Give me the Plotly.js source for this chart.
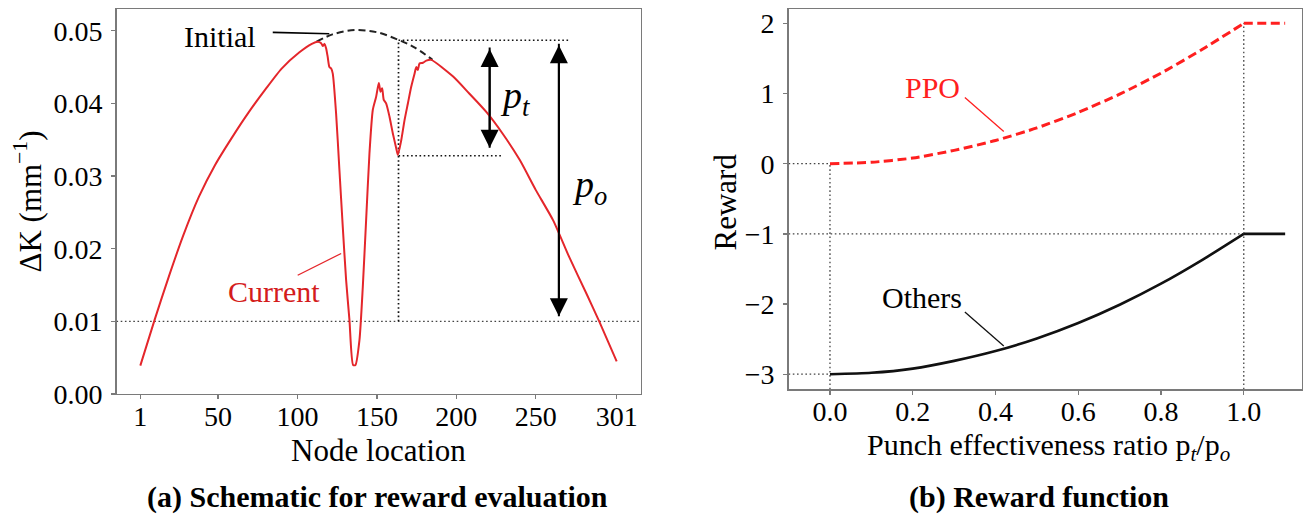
<!DOCTYPE html>
<html>
<head>
<meta charset="utf-8">
<script src="https://cdn.plot.ly/plotly-3.0.1.min.js"></script>
<style>
  html, body { margin: 0; padding: 0; background: #fff; }
  #chart { width: 1309px; height: 516px; }
</style>
</head>
<body>
<div id="chart"></div>
<script>
// ---------- (a) data: Delta K along the node location ----------
const currentNodes = [1, 10, 19, 28, 38, 48, 59, 69, 80, 90, 101, 109,
  112.7, 114.9, 115.9, 117, 118, 119, 120.1, 121.2, 122.2, 124.3, 126.4, 128.5, 130.6, 132.7,
  135, 136.5, 139, 141.1, 143.2, 145.3, 147.4, 149.5, 151.2, 152.3, 153.3, 154.3, 155.8,
  157.9, 160, 162.2, 163.2, 165.3, 167.4, 169.5, 171.6, 173.7, 174.8, 175.8, 176.8, 179,
  181.1, 184.2, 198, 208, 219, 229, 240, 250, 261, 271, 282, 290, 301];
const currentK = [0.0039, 0.0102, 0.0162, 0.0218, 0.0272, 0.0315, 0.0354, 0.0387, 0.0420, 0.0448, 0.0470, 0.0482,
  0.0485, 0.0483, 0.0479, 0.0482, 0.0476, 0.0464, 0.0450, 0.0448, 0.0441, 0.0386, 0.0308, 0.0230, 0.0157, 0.0102,
  0.0040, 0.0040, 0.0074, 0.0147, 0.0239, 0.0331, 0.0391, 0.0409, 0.0428, 0.0416, 0.0421, 0.0405, 0.0400,
  0.0382, 0.0359, 0.0338, 0.0329, 0.0349, 0.0377, 0.0400, 0.0423, 0.0441, 0.0450, 0.0446, 0.0455, 0.0456,
  0.0459, 0.0460, 0.0437, 0.0414, 0.0388, 0.0359, 0.0322, 0.0281, 0.0239, 0.0189, 0.0138, 0.0100, 0.0045];

const initialNodes = [112, 122, 136, 150, 163, 173, 185];
const initialK = [0.0485, 0.0495, 0.0501, 0.0498, 0.0488, 0.0478, 0.0460];

const thresholdK = 0.01;        // dotted threshold line
const punchNode = 163.6;        // node of the punch (vertical dotted line)
const initialAtPunch = 0.0487;  // initial Delta K at the punch node
const currentAtPunch = 0.0328;  // current Delta K at the punch node
const ptGuideEnd = 229;         // end of lower dotted guide
const poGuideEnd = 271.4;       // end of upper dotted guide
const ptArrow = {node: 221, top: 0.0477, bottom: 0.0339};
const poArrow = {node: 264.6, top: 0.0482, bottom: 0.0107};

const xTicksA = [1, 50, 100, 150, 200, 250, 301];
const yTicksA = [0, 0.01, 0.02, 0.03, 0.04, 0.05];

// ---------- (b) data: reward function ----------
const ratio = [0, 0.1, 0.2, 0.3, 0.4, 0.5, 0.6, 0.7, 0.8, 0.9, 1.0];
const rewardPPO = [0, 0.02, 0.08, 0.19, 0.33, 0.51, 0.73, 0.99, 1.29, 1.63, 2.0];
const rewardOthers = [-3, -2.98, -2.92, -2.81, -2.67, -2.49, -2.27, -2.01, -1.71, -1.37, -1.0];
const ratioCap = [1.0, 1.1];
const ppoCap = [2.0, 2.0];
const othersCap = [-1.0, -1.0];
const xTicksB = [0, 0.2, 0.4, 0.6, 0.8, 1.0];
const yTicksB = [-3, -2, -1, 0, 1, 2];

// ---------- layout helpers ----------
const W = 1309, H = 516;
const px = v => v / W;
const py = v => 1 - v / H;
const SERIF = 'Liberation Serif, Times New Roman, serif';
const FRAME = '#7a7a7a';
const RED = '#e4262b';
const PPORED = '#ff1f1f';
const DOT = '#444444';

const xLo = -14, xHi = 316;
const bLo = -0.1, bHi = 1.14, rLo = -3.215, rHi = 2.2;

const dotted = (x, y, xa, ya, color, w) => ({x, y, xaxis: xa, yaxis: ya, mode: 'lines',
  line: {color, width: w, dash: '1.6px,2.6px'}, hoverinfo: 'skip'});

const traces = [
  // (a) guides
  dotted([xLo, xHi], [thresholdK, thresholdK], 'x', 'y', DOT, 1.4),
  dotted([punchNode, punchNode], [thresholdK, initialAtPunch], 'x', 'y', '#111', 1.7),
  dotted([punchNode, poGuideEnd], [initialAtPunch, initialAtPunch], 'x', 'y', '#111', 1.7),
  dotted([punchNode, ptGuideEnd], [currentAtPunch, currentAtPunch], 'x', 'y', '#111', 1.7),
  // (a) arrow shafts
  {x: [ptArrow.node, ptArrow.node], y: [ptArrow.top, ptArrow.bottom], xaxis: 'x', yaxis: 'y', mode: 'lines',
   line: {color: '#000', width: 2}, hoverinfo: 'skip'},
  {x: [poArrow.node, poArrow.node], y: [poArrow.top, poArrow.bottom], xaxis: 'x', yaxis: 'y', mode: 'lines',
   line: {color: '#000', width: 2}, hoverinfo: 'skip'},
  // (a) initial (dashed)
  {x: initialNodes, y: initialK, xaxis: 'x', yaxis: 'y', mode: 'lines', name: 'Initial',
   line: {color: '#222', width: 2, dash: '7px,4px', shape: 'spline', smoothing: 1}},
  // (a) current
  {x: currentNodes, y: currentK, xaxis: 'x', yaxis: 'y', mode: 'lines', name: 'Current',
   line: {color: RED, width: 2, shape: 'spline', smoothing: 0.6}},
  // (a) leader lines
  {x: [84.4, 120], y: [0.04978, 0.0496], xaxis: 'x', yaxis: 'y', mode: 'lines',
   line: {color: '#000', width: 1.6}, hoverinfo: 'skip'},
  {x: [100.1, 127.5], y: [0.01635, 0.01934], xaxis: 'x', yaxis: 'y', mode: 'lines',
   line: {color: RED, width: 1.3}, hoverinfo: 'skip'},

  // (b) guides
  dotted([bLo, 0], [0, 0], 'x2', 'y2', DOT, 1.3),
  dotted([bLo, 1], [-1, -1], 'x2', 'y2', DOT, 1.3),
  dotted([bLo, 0], [-3, -3], 'x2', 'y2', DOT, 1.3),
  dotted([0, 0], [rLo, 0], 'x2', 'y2', DOT, 1.3),
  dotted([1, 1], [rLo, 2], 'x2', 'y2', DOT, 1.3),
  // (b) curves
  {x: ratio, y: rewardOthers, xaxis: 'x2', yaxis: 'y2', mode: 'lines', name: 'Others',
   line: {color: '#111', width: 2.6, shape: 'spline', smoothing: 0.6}},
  {x: ratioCap, y: othersCap, xaxis: 'x2', yaxis: 'y2', mode: 'lines', name: 'Others',
   line: {color: '#111', width: 2.6}},
  {x: ratio, y: rewardPPO, xaxis: 'x2', yaxis: 'y2', mode: 'lines', name: 'PPO',
   line: {color: PPORED, width: 3, dash: '9px,4.5px', shape: 'spline', smoothing: 0.6}},
  {x: ratioCap, y: ppoCap, xaxis: 'x2', yaxis: 'y2', mode: 'lines', name: 'PPO',
   line: {color: PPORED, width: 3, dash: '9px,4.5px'}},
  // (b) leader lines
  {x: [0.326, 0.42], y: [0.944, 0.46], xaxis: 'x2', yaxis: 'y2', mode: 'lines', line: {color: PPORED, width: 1.3}, hoverinfo: 'skip'},
  {x: [0.326, 0.42], y: [-2.114, -2.598], xaxis: 'x2', yaxis: 'y2', mode: 'lines', line: {color: '#111', width: 1.3}, hoverinfo: 'skip'}
];

const axisCommon = {
  showgrid: false, zeroline: false, showline: true, mirror: true,
  linecolor: FRAME, linewidth: 1.4, ticks: 'outside', ticklen: 4, tickwidth: 1.3,
  tickcolor: FRAME, tickfont: {family: SERIF, size: 28, color: '#000'}, fixedrange: true
};

const arrowCommon = {
  text: '', showarrow: true, arrowside: 'end+start', arrowhead: 2, startarrowhead: 2,
  arrowsize: 1.8, startarrowsize: 1.8, arrowwidth: 2, arrowcolor: '#000',
  xref: 'x', yref: 'y', axref: 'x', ayref: 'y', standoff: 0, startstandoff: 0
};

const txt = (text, x, y, xref, yref, size, color, extra) => Object.assign({
  text, x, y, xref, yref, showarrow: false, xanchor: 'center', yanchor: 'middle',
  font: {family: SERIF, size, color}
}, extra || {});

const annotations = [
  {...arrowCommon, x: ptArrow.node, y: ptArrow.bottom, ax: ptArrow.node, ay: ptArrow.top},
  {...arrowCommon, x: poArrow.node, y: poArrow.bottom, ax: poArrow.node, ay: poArrow.top},
  txt('<i>p<sub>t</sub></i>', 237.2, 0.0407, 'x', 'y', 38, '#000'),
  txt('<i>p<sub>o</sub></i>', 283.9, 0.0285, 'x', 'y', 38, '#000'),
  txt('Initial', 51.4, 0.04917, 'x', 'y', 30, '#000'),
  txt('Current', 85.5, 0.01405, 'x', 'y', 30, '#d41c1c'),
  txt('PPO', 0.248, 1.088, 'x2', 'y2', 30, PPORED),
  txt('Others', 0.222, -1.90, 'x2', 'y2', 30, '#000'),
  // axis titles
  txt('ΔK (mm<sup>−1</sup>)', px(27.5), py(202), 'paper', 'paper', 31, '#000', {textangle: -90}),
  txt('Node location', px(379), py(450), 'paper', 'paper', 31, '#000'),
  txt('Reward', px(724.5), py(202), 'paper', 'paper', 31, '#000', {textangle: -90}),
  txt('Punch effectiveness ratio p<sub><i>t</i></sub>/p<sub><i>o</i></sub>', px(1048), py(447), 'paper', 'paper', 30, '#000'),
  // captions
  txt('<b>(a) Schematic for reward evaluation</b>', px(377.5), py(497), 'paper', 'paper', 30, '#000'),
  txt('<b>(b) Reward function</b>', px(1038.7), py(497), 'paper', 'paper', 30, '#000')
];

const layout = {
  width: W, height: H, margin: {l: 0, r: 0, t: 0, b: 0},
  paper_bgcolor: '#fff', plot_bgcolor: '#fff', showlegend: false,
  xaxis: {...axisCommon, domain: [px(116.5), px(640.5)], range: [xLo, xHi],
          tickvals: xTicksA, ticktext: xTicksA.map(String), anchor: 'y', ticklabelstandoff: -7},
  yaxis: {...axisCommon, domain: [py(394), py(9)], range: [0, 0.053],
          tickvals: yTicksA, tickformat: '.2f', anchor: 'x', ticklabelstandoff: 3},
  xaxis2: {...axisCommon, domain: [px(788.6), px(1301.7)], range: [bLo, bHi],
          tickvals: xTicksB, tickformat: '.1f', anchor: 'y2', ticklabelstandoff: -7},
  yaxis2: {...axisCommon, domain: [py(389.3), py(9.3)], range: [rLo, rHi],
          tickvals: yTicksB, anchor: 'x2', ticklabelstandoff: 3},
  annotations: annotations
};

Plotly.newPlot('chart', traces, layout, {staticPlot: true, displayModeBar: false});
</script>
</body>
</html>
